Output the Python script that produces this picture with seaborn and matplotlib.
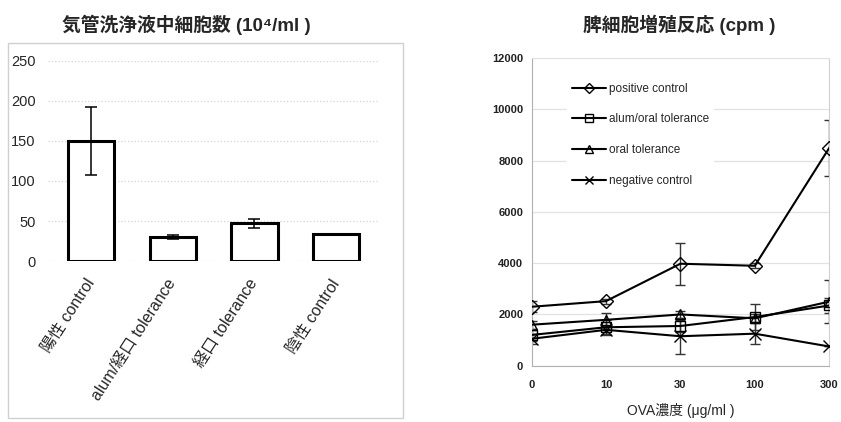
#!/usr/bin/env python3

import numpy as np
import pandas as pd
import matplotlib
matplotlib.use('Agg')
import matplotlib.pyplot as plt
import seaborn as sns
from matplotlib.patches import Rectangle

# left panel: BAL cell counts
bal_groups = ['陽性 control', 'alum/経口 tolerance', '経口 tolerance', '陰性 control']
bal_values = [150, 30, 47, 34]
bal_errors = [42, 3, 6, 0]

# right panel: spleen cell proliferation
ova_doses = ['0', '10', '30', '100', '300']
series_names = ['positive control', 'alum/oral tolerance', 'oral tolerance', 'negative control']
positive_ctrl = [2300, 2520, 3980, 3900, 8500]
positive_err = [220, 100, 820, 100, 1080]
alum_oral = [1200, 1500, 1550, 1900, 2350]
alum_oral_err = [250, 300, 250, 520, 300]
oral_tol = [1600, 1790, 2000, 1850, 2500]
oral_tol_err = [150, 280, 150, 150, 850]
negative_ctrl = [1050, 1400, 1150, 1250, 750]
negative_err = [200, 150, 700, 400, 0]
series_markers = ['D', 's', '^', 'x']

sns.set_style('white')
#Arial-like latin first, CJK glyphs fall through to Noto
plt.rcParams['font.family'] = ['Liberation Sans', 'Noto Sans CJK JP', 'DejaVu Sans']

fig = plt.figure(figsize=(8.41, 4.22), dpi=100)

#frame around the left chart
fig.patches.append(Rectangle((8 / 841, 1 - 418 / 422), 395 / 841, 375 / 422,
                             transform=fig.transFigure, fill=False,
                             edgecolor='#d0d0d0', linewidth=1))

ax1 = fig.add_axes([0.057, 0.3815, 0.392, 0.474])
bal_df = pd.DataFrame({'group': bal_groups, 'cells': bal_values})
sns.barplot(data=bal_df, x='group', y='cells', ax=ax1, color='white',
            edgecolor='black', linewidth=2.2, width=0.57, errorbar=None,
            saturation=1)
ax1.errorbar(np.arange(len(bal_values)), bal_values, yerr=bal_errors,
             fmt='none', ecolor='black', elinewidth=1.1, capsize=4.5, capthick=1.1)
ax1.set_ylim(0, 250)
ax1.set_xlim(-0.53, 3.51)
ax1.set_yticks([0, 50, 100, 150, 200, 250])
ax1.grid(axis='y', color='#d6d6c8', linestyle=':', linewidth=0.9)
ax1.set_axisbelow(True)
for s in ax1.spines.values():
    s.set_visible(False)
ax1.tick_params(axis='y', length=0, pad=9, labelsize=10.5)
ax1.tick_params(axis='x', length=0, pad=14, labelsize=11.5)
ax1.set_xticks(np.arange(len(bal_groups)))
ax1.set_xticklabels(bal_groups, rotation=57, ha='right', va='center',
                    rotation_mode='anchor')
ax1.set_xlabel('')
ax1.set_ylabel('')

fig.text(186 / 841, 1 - 25 / 422, '気管洗浄液中細胞数 (10⁴/ml )', ha='center', va='center',
         fontsize=13.5, fontweight='bold')

# right chart
ax2 = fig.add_axes([0.632, 0.1334, 0.354, 0.7286])
all_series = [(positive_ctrl, positive_err), (alum_oral, alum_oral_err),
              (oral_tol, oral_tol_err), (negative_ctrl, negative_err)]
dose_pos = np.arange(len(ova_doses))
for name, mk, (vals, errs) in zip(series_names, series_markers, all_series):
    sns.lineplot(x=dose_pos, y=vals, ax=ax2, color='black', marker=mk,
                 markersize=9 if mk == 'x' else 7.5, markerfacecolor='none',
                 markeredgecolor='black', markeredgewidth=1.0, linewidth=1.5,
                 label=name, zorder=3)
    ax2.errorbar(dose_pos, vals, yerr=errs, fmt='none', ecolor='#333333',
                 elinewidth=1.0, capsize=3.5, capthick=1.0, zorder=2)

ax2.set_xlim(0, 4)
ax2.set_ylim(0, 12000)
ax2.set_yticks(np.arange(0, 12001, 2000))
ax2.set_xticks(dose_pos)
ax2.set_xticklabels(ova_doses)
ax2.grid(axis='y', color='#e2e2e2', linewidth=0.9)
ax2.set_axisbelow(True)
for s in ax2.spines.values():
    s.set_color('#b0b0b0')
    s.set_linewidth(0.8)
ax2.spines['top'].set_color('#e2e2e2')
ax2.spines['right'].set_color('#d0d0d0')
ax2.tick_params(axis='both', length=3, color='#999999', labelsize=8, pad=3)
ax2.tick_params(axis='x', pad=7)
for lbl in ax2.get_xticklabels() + ax2.get_yticklabels():
    lbl.set_fontweight('bold')
    lbl.set_color('#222222')
ax2.set_xlabel('')
ax2.set_ylabel('')

leg = ax2.legend(loc='upper left', bbox_to_anchor=(0.10, 0.955), frameon=True,
                 fontsize=8.5, labelspacing=1.58, handlelength=2.9, handletextpad=0.2,
                 borderpad=0.4, markerscale=0.7)
leg.get_frame().set_edgecolor('white')
leg.get_frame().set_facecolor('white')
leg.get_frame().set_alpha(1)

fig.text(679 / 841, 1 - 25 / 422, '脾細胞増殖反応 (cpm )', ha='center', va='center',
         fontsize=13.5, fontweight='bold')
fig.text(681 / 841, 1 - 411 / 422, 'OVA濃度 (μg/ml )', ha='center', va='center',
         fontsize=10)

fig.savefig('out.png', dpi=100)
